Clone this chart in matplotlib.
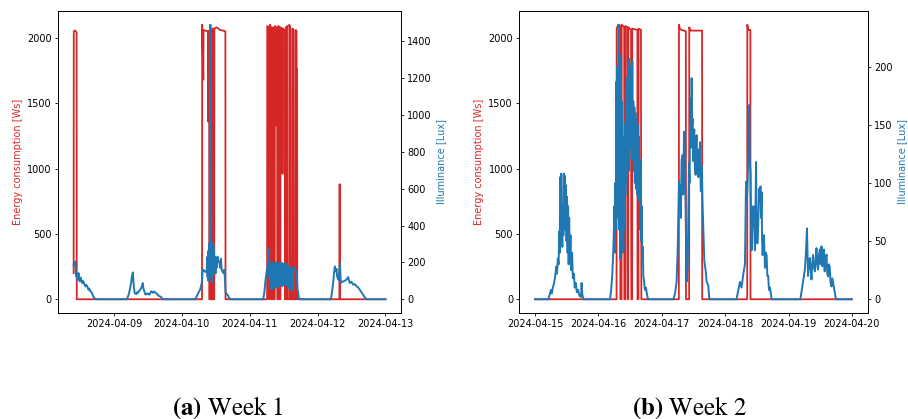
import pandas as pd
import matplotlib.pyplot as plt
import matplotlib.dates as mdates

plt.rcParams['mathtext.fontset'] = 'stix'

# week 1 starts 2024-04-08, week 2 starts 2024-04-15 (times are hours from that midnight)
week1_start = '2024-04-08'
week2_start = '2024-04-15'

# ---- week 1 : energy consumption [Ws]
w1_energy_h = [9.75, 9.8, 10.3, 10.8, 10.85,
               55.15, 55.2, 55.6, 55.7, 56.8, 57.25, 57.3, 57.35, 57.65, 57.7, 58.05, 58.1, 58.3, 58.35,
               58.85, 58.9, 59.2, 59.25, 59.45, 59.5, 60.3, 61.5, 63.4, 63.45,
               78.15, 78.2, 78.75, 78.8, 79.15, 79.2, 79.7, 79.75, 80.05, 80.1, 80.55, 80.6, 80.85, 80.9,
               81.25, 81.3, 81.35, 81.7, 81.75, 82.05, 82.1, 82.4, 82.45, 82.85, 82.9, 83.55, 83.6, 83.65,
               84.4, 84.45, 84.75, 84.8, 85.2, 85.25, 85.95, 86.0, 86.4, 86.45, 87.1, 87.15, 87.55, 87.6,
               88.25, 88.3, 88.55, 88.6, 88.75, 88.8,
               103.75, 103.8, 103.85, 120.0]
w1_energy = [200, 2050, 2055, 2040, 0,
             0, 2100, 1680, 2060, 2050, 2050, 1360, 2050, 2050, 0, 0, 2060, 2060, 0,
             0, 2070, 2070, 0, 0, 2070, 2080, 2060, 2050, 0,
             0, 2090, 2080, 0, 0, 2100, 2070, 0, 0, 2080, 2070, 0, 0, 2090,
             2080, 1330, 2080, 2070, 0, 0, 2090, 2085, 0, 0, 2080, 2070, 960, 2070,
             2060, 0, 0, 2080, 2090, 0, 0, 2100, 2070, 0, 0, 2070, 2060, 0,
             0, 2060, 2050, 1760, 1760, 0,
             0, 880, 0, 0]

# ---- week 1 : illuminance [Lux]
w1_lux_h = [9.74, 10.0, 10.3, 10.5, 10.7, 10.9, 11.15, 11.3, 11.5, 11.7, 11.9, 12.1, 12.35, 12.6, 12.8,
            13.0, 13.3, 13.6, 13.9, 14.2, 14.5, 14.8, 15.0, 15.3, 15.6, 15.9, 16.2, 16.5, 16.8, 17.1,
            17.4, 18.0,
            28.6, 29.2, 29.75, 30.1, 30.35, 30.7, 30.9, 31.1, 31.3, 31.6, 31.9, 32.2, 32.5, 32.9, 33.3,
            33.6, 33.9, 34.2, 34.4, 34.7, 35.0, 35.2, 35.6, 35.9, 36.2, 36.6, 36.9, 37.1, 37.5, 37.8,
            38.1, 38.5, 38.9, 39.2, 39.6, 39.9, 40.3, 40.6, 41.0, 41.3,
            52.7, 53.3, 53.85, 54.45, 55.05, 55.4, 55.8, 56.2, 56.5, 56.8, 57.0, 57.1, 57.3, 57.4, 57.6,
            57.7, 57.9, 58.0, 58.1, 58.2, 58.3, 58.4, 58.5, 58.6, 58.8, 58.9, 59.1, 59.2, 59.4, 59.5,
            59.7, 59.9, 60.1, 60.3, 60.6, 60.9, 61.3, 61.6, 61.8, 62.1, 62.4, 62.7, 63.0, 63.2, 63.5,
            63.8, 64.1, 64.4, 64.7, 65.3,
            76.8, 77.2, 77.6, 78.0, 78.35, 78.6, 78.8, 79.0, 79.2, 79.35, 79.5, 79.65, 79.8, 79.95,
            80.1, 80.25, 80.4, 80.55, 80.7, 80.85, 81.0, 81.15, 81.3, 81.45, 81.6, 81.75, 81.9, 82.05,
            82.2, 82.35, 82.5, 82.65, 82.8, 82.95, 83.1, 83.25, 83.4, 83.55, 83.7, 83.85, 84.0, 84.15,
            84.3, 84.45, 84.6, 84.75, 84.9, 85.05, 85.2, 85.35, 85.5, 85.65, 85.8, 85.95, 86.1, 86.25,
            86.4, 86.55, 86.7, 86.85, 87.0, 87.15, 87.3, 87.5, 87.7, 88.0, 88.3, 88.6, 88.9, 89.4, 89.8,
            100.7, 101.1, 101.5, 101.8, 102.1, 102.5, 102.7, 102.9, 103.3, 103.6, 103.9, 104.2, 104.6,
            105.1, 105.6, 106.2, 106.8, 107.1, 107.4, 108.0, 108.6, 109.2, 109.8, 110.3, 110.9, 111.5,
            112.1, 112.7, 113.3, 120.0]
w1_lux = [187, 200, 205, 150, 124, 140, 106, 130, 142, 110, 97, 118, 115, 95, 88,
          100, 92, 80, 70, 78, 72, 60, 52, 58, 45, 40, 34, 22, 13, 6,
          2, 0,
          0, 25, 61, 95, 124, 146, 88, 60, 35, 30, 28, 38, 35, 45, 52,
          60, 70, 88, 60, 45, 30, 25, 30, 32, 28, 25, 35, 43, 40, 35,
          42, 38, 32, 30, 22, 18, 15, 13, 5, 0,
          0, 16, 35, 52, 88, 160, 158, 150, 148, 151, 230, 120, 260, 100, 300,
          140, 280, 600, 1490, 250, 800, 120, 310, 90, 280, 130, 300, 150, 270, 180,
          230, 140, 220, 170, 232, 210, 196, 170, 220, 160, 150, 142, 160, 120, 35,
          30, 25, 18, 7, 0,
          0, 40, 106, 150, 178, 277, 200, 120, 196, 60, 180, 80, 200, 55,
          190, 70, 185, 90, 195, 60, 180, 75, 200, 85, 185, 65, 190, 80,
          195, 70, 185, 90, 190, 75, 200, 85, 190, 70, 195, 95, 185, 80,
          190, 100, 195, 85, 180, 75, 185, 90, 175, 70, 180, 60, 170, 55,
          165, 50, 170, 60, 175, 55, 170, 160, 165, 169, 150, 142, 52, 7, 0,
          0, 40, 88, 140, 178, 151, 165, 124, 106, 130, 196, 88, 95,
          97, 100, 106, 120, 105, 88, 95, 79, 82, 70, 65, 52, 40,
          25, 10, 0, 0]

# ---- week 2 : energy consumption [Ws]
w2_energy_h = [0.0, 30.85, 30.9, 31.5, 32.25, 32.3, 32.75, 32.8, 33.75, 33.8, 34.15, 34.2, 34.95, 35.0,
               35.05, 35.25, 35.3, 36.35, 36.4, 36.45, 36.75, 36.8, 38.75, 38.8, 39.15, 39.2, 40.1,
               40.15, 40.25,
               54.45, 54.5, 54.8, 55.5, 57.1, 57.15, 58.35, 58.4, 58.8, 63.25, 63.3,
               80.35, 80.4, 80.8, 81.55, 81.6, 120.0]
w2_energy = [0, 0, 2070, 2100, 2090, 0, 0, 2100, 2080, 0, 0, 2090, 2080, 300,
             0, 0, 2080, 2060, 500, 0, 0, 2070, 2060, 0, 0, 2070, 2060,
             1000, 0,
             0, 2100, 2070, 2060, 2050, 0, 0, 2080, 2055, 2055, 0,
             0, 2100, 2060, 2060, 0, 0]

# ---- week 2 : illuminance [Lux]
w2_lux_h = [0.0, 5.0, 5.5, 6.0, 6.3, 6.7, 7.2, 7.6, 8.0, 8.3, 8.6, 8.9, 9.1, 9.3, 9.5, 9.7, 9.9, 10.1,
            10.3, 10.5, 10.7, 10.9, 11.1, 11.3, 11.5, 11.7, 11.9, 12.1, 12.3, 12.5, 12.7, 12.9, 13.1,
            13.4, 13.7, 14.0, 14.3, 14.7, 15.0, 15.4, 15.8, 16.3, 16.8, 17.4, 17.6, 17.9, 18.3,
            28.4, 28.8, 29.2, 29.5, 29.8, 30.0, 30.2, 30.4, 30.6, 30.8, 31.0, 31.2, 31.4, 31.6, 31.7,
            31.8, 32.0, 32.2, 32.4, 32.6, 32.8, 33.0, 33.2, 33.4, 33.6, 33.8, 34.0, 34.2, 34.4, 34.6,
            34.8, 35.0, 35.2, 35.4, 35.6, 35.8, 36.0, 36.2, 36.4, 36.6, 36.8, 37.0, 37.2, 37.4, 37.6,
            37.8, 38.0, 38.2, 38.4, 38.6, 38.8, 39.0, 39.2, 39.4, 39.6, 39.8, 40.0, 40.2, 40.4, 40.6,
            40.8, 41.0, 41.3, 41.6, 42.0, 42.4, 42.8,
            52.4, 53.0, 53.6, 54.0, 54.5, 54.9, 55.2, 55.5, 55.9, 56.1, 56.4, 56.6, 56.8, 57.1, 57.4,
            57.8, 58.1, 58.3, 58.5, 58.7, 58.9, 59.0, 59.15, 59.3, 59.5, 59.7, 59.9, 60.1, 60.3, 60.5,
            60.8, 61.0, 61.2, 61.4, 61.6, 61.8, 62.1, 62.3, 62.5, 62.7, 62.8, 63.0, 63.2, 63.4, 63.7,
            64.1, 64.6, 65.0, 65.6, 66.0,
            76.3, 77.0, 77.6, 78.2, 78.9, 79.5, 79.9, 80.2, 80.4, 80.8, 81.1, 81.3, 81.6, 82.0, 82.3,
            82.7, 83.0, 83.3, 83.7, 83.9, 84.2, 84.5, 84.7, 84.9, 85.1, 85.4, 85.6, 85.8, 86.0, 86.2,
            86.5, 86.7, 87.1, 87.4, 87.7, 88.0, 88.3, 88.6, 89.0, 89.6,
            100.5, 101.3, 102.2, 102.6, 103.0, 103.4, 103.7, 104.1, 104.4, 104.7, 105.0, 105.3, 105.6,
            106.0, 106.3, 106.6, 106.9, 107.2, 107.5, 107.9, 108.2, 108.5, 108.9, 109.1, 109.4, 109.7,
            110.0, 110.4, 110.7, 111.0, 111.3, 111.6, 111.9, 112.3, 112.6, 112.9, 113.3, 113.9, 114.2,
            120.0]
w2_lux = [0, 0, 4, 8, 5, 10, 14, 20, 28, 22, 35, 30, 58, 40, 105, 60, 108, 70,
          45, 80, 55, 108, 70, 106, 60, 98, 50, 88, 40, 80, 30, 70, 35,
          55, 25, 40, 18, 22, 10, 14, 6, 8, 3, 2, 14, 4, 0,
          0, 8, 20, 35, 55, 80, 40, 100, 60, 187, 70, 200, 90, 230, 236,
          60, 210, 35, 190, 80, 170, 50, 140, 40, 120, 60, 150, 90, 180, 100,
          190, 120, 200, 110, 207, 130, 200, 150, 180, 120, 205, 140, 170, 110, 165,
          100, 160, 95, 155, 90, 150, 100, 140, 85, 120, 60, 110, 50, 80, 35,
          45, 20, 15, 8, 10, 4, 0,
          0, 5, 15, 40, 101, 93, 70, 120, 124, 90, 144, 100, 110, 60, 15,
          30, 80, 117, 100, 150, 130, 173, 140, 190, 150, 155, 119, 140, 146, 115,
          107, 135, 141, 110, 129, 105, 111, 125, 135, 100, 93, 115, 111, 85, 62,
          33, 25, 15, 12, 0,
          0, 8, 15, 10, 22, 30, 101, 85, 93, 124, 167, 120, 110, 42, 70,
          80, 60, 42, 118, 75, 48, 62, 80, 95, 90, 97, 70, 92, 50, 38,
          55, 55, 27, 40, 38, 20, 20, 8, 10, 0,
          0, 12, 25.5, 40, 61, 20, 30, 35.5, 25, 17, 30, 38, 28,
          24, 35, 44, 30, 25.5, 38, 42.7, 30, 45.5, 28.3, 35, 42.7, 24,
          33, 38.4, 22, 19.7, 30, 28.3, 15, 11, 18, 14, 8.3, 1.2, 0,
          0]


def to_time(start, hours):
    return pd.Timestamp(start) + pd.to_timedelta(hours, unit='h')


fig = plt.figure(figsize=(9.08, 4.19), dpi=100)

panels = [
    ([0.0639, 0.253, 0.3778, 0.7208], week1_start, w1_energy_h, w1_energy, w1_lux_h, w1_lux,
     r'$\mathbf{(a)}$ Week 1', 0.251),
    ([0.5719, 0.253, 0.3837, 0.7208], week2_start, w2_energy_h, w2_energy, w2_lux_h, w2_lux,
     r'$\mathbf{(b)}$ Week 2', 0.759),
]

for rect, start, e_h, e_val, l_h, l_val, caption, cap_x in panels:
    ax = fig.add_axes(rect)
    ax.plot(to_time(start, e_h), e_val, color='tab:red', lw=1.3)
    ax.set_ylabel('Energy consumption [Ws]', color='tab:red', fontsize=7, labelpad=3)

    ax2 = ax.twinx()
    ax2.plot(to_time(start, l_h), l_val, color='tab:blue', lw=1.4)
    ax2.set_ylabel('Illuminance [Lux]', color='tab:blue', fontsize=7, labelpad=3)

    ax.xaxis.set_major_locator(mdates.DayLocator())
    ax.xaxis.set_major_formatter(mdates.DateFormatter('%Y-%m-%d'))
    for a in (ax, ax2):
        a.tick_params(labelsize=7, length=2.5, width=0.6, pad=2)
        for s in a.spines.values():
            s.set_linewidth(0.6)

    # subfigure caption underneath
    fig.text(cap_x, 0.011, caption, ha='center', va='baseline',
             family='STIXGeneral', fontsize=18)

fig.savefig('out.png', dpi=100)
